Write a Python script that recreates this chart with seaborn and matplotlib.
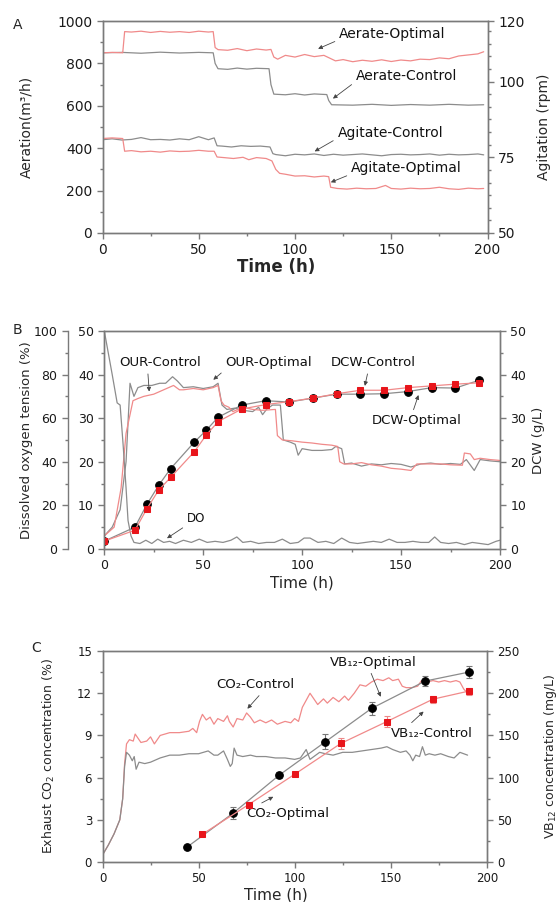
import matplotlib
matplotlib.use("Agg")
import matplotlib.pyplot as plt
from matplotlib.ticker import MultipleLocator, FixedLocator
import seaborn as sns

# ---------------- panel A : aeration / agitation ----------------
aer_ctrl_t = [0, 10, 20, 30, 40, 50, 57.5, 58.5, 60, 65, 70, 75, 80, 86.5, 87.5, 89, 95, 100,
              105, 110, 116.5, 117.5, 119, 130, 140, 150, 160, 170, 180, 190, 198]
aer_ctrl = [850, 852, 848, 853, 849, 852, 850, 800, 775, 772, 778, 773, 777, 775, 700, 655, 652,
            657, 651, 656, 653, 625, 605, 603, 607, 602, 606, 603, 607, 603, 605]

aer_opt_t = [0, 5, 10.5, 11.5, 15, 20, 25, 30, 35, 40, 45, 50, 55, 57.5, 58.5, 60, 65, 70, 75, 80,
             85, 87.5, 89, 91, 95, 100, 105, 110, 115, 118, 121, 125, 130, 135, 140, 145, 150, 155,
             160, 165, 170, 175, 180, 185, 190, 195, 198]
aer_opt = [850, 852, 850, 950, 948, 952, 946, 951, 947, 950, 946, 952, 948, 950, 875, 865, 862, 870,
           860, 868, 863, 866, 830, 820, 838, 830, 842, 832, 838, 825, 812, 818, 808, 815, 810, 817,
           809, 816, 812, 820, 818, 826, 822, 835, 840, 845, 855]

agi_ctrl_t = [0, 5, 10, 15, 20, 25, 30, 35, 40, 45, 50, 55, 58, 59.5, 62, 67, 72, 77, 82, 87, 88.5,
              90, 95, 100, 105, 110, 115, 120, 125, 130, 135, 140, 145, 150, 155, 160, 165, 170, 175,
              180, 185, 190, 195, 198]
agi_ctrl = [80.8, 81.1, 80.7, 80.9, 81.5, 80.8, 80.9, 80.7, 81.1, 80.8, 81.8, 80.8, 81.4, 78.8, 78.7,
            78.4, 78.8, 78.6, 78.7, 78.4, 76.2, 75.9, 75.5, 76.0, 75.8, 76.1, 75.6, 76.0, 75.7, 75.9,
            76.1, 75.8, 75.5, 75.9, 76.0, 75.8, 75.9, 76.1, 75.7, 76.0, 75.8, 75.9, 76.1, 75.8]

agi_opt_t = [0, 5, 10.5, 11.5, 15, 20, 25, 30, 35, 40, 45, 50, 55, 58, 59.5, 63, 68, 73, 76, 80, 85,
             88, 90, 92, 95, 100, 105, 110, 115, 117.5, 118.5, 122, 127, 132, 137, 142, 147, 150,
             155, 160, 165, 170, 175, 180, 185, 190, 195, 198]
agi_opt = [81.2, 81.4, 81.2, 77.0, 77.2, 76.8, 77.0, 76.7, 77.1, 76.9, 77.0, 77.3, 77.0, 77.0, 75.1,
           74.9, 74.6, 75.0, 74.2, 74.9, 74.6, 73.8, 71.0, 69.7, 69.4, 68.8, 68.9, 68.5, 68.8, 68.6,
           65.1, 64.7, 64.5, 64.8, 64.6, 64.7, 65.7, 64.7, 64.5, 64.8, 64.6, 64.7, 65.1, 64.6, 64.4,
           64.8, 64.6, 64.7]

# ---------------- panel B : DO / OUR / DCW ----------------
do_t = [0, 2, 4, 6.5, 8, 9.5, 11, 12, 13.5, 15, 18, 21, 24, 27, 30, 33, 36, 40, 44, 48, 52, 56, 60,
        64, 67, 70, 74, 78, 82, 86, 90, 94, 98, 101, 104, 108, 112, 116, 120, 124, 128, 132, 136,
        140, 144, 148, 152, 156, 160, 164, 167, 170, 174, 178, 182, 186, 190, 194, 198, 200]
do_pct = [100, 90, 80, 67, 66, 48, 28, 13, 6, 3, 2.5, 4, 2.5, 4.5, 3, 3.5, 2.5, 4, 3, 4.5, 3, 3.5,
          3, 4, 5.5, 3, 3.5, 2.5, 3, 3, 4.5, 2.5, 3, 5, 5, 3, 3.5, 2.5, 5, 3, 2.5, 3, 3.5, 3, 4.5,
          3, 3, 3.5, 3, 3, 5.5, 3, 2.5, 3, 2, 3, 2.5, 2, 3.5, 4]

our_ctrl_t = [0, 4, 8, 11, 13, 15, 17, 20, 24, 28, 31, 34.5, 37, 40, 45, 50, 55, 57.5, 59.5, 62, 66,
              70, 75, 78, 80, 82, 85, 89, 90.5, 94, 96.5, 98, 100, 105, 110, 115, 117, 120, 121.5,
              125, 130, 135, 140, 145, 150, 155, 160, 165, 170, 175, 180, 183, 187, 190, 195, 200]
our_ctrl = [3, 5, 9, 20, 38, 35, 37, 37.5, 37.5, 38, 38, 39.5, 38.5, 37, 37.2, 36.8, 37.2, 38, 33,
            32, 32.3, 31.8, 31.5, 32.5, 30.8, 32, 33, 33, 25, 24.5, 24, 21.5, 23, 22.6, 22.6, 22.8,
            23.5, 23, 19.5, 19.7, 19, 19.5, 19.3, 19.6, 19.4, 18.8, 19.5, 19.7, 19.4, 19.6, 19.4,
            20.5, 18, 20.5, 20.2, 20]

our_opt_t = [0, 5, 8.5, 11, 14.5, 17, 20, 25, 30, 35, 38, 40, 45, 50, 55, 57.5, 59, 60.5, 63, 65, 70,
             75, 80, 86.5, 87.5, 90, 95, 100, 105, 110, 115, 118, 119, 121, 125, 130, 135, 140, 145,
             150, 155, 158, 165, 170, 175, 181, 182, 185, 187, 190, 195, 200]
our_opt = [3, 5, 14, 26.5, 34, 34.5, 35, 35.5, 36.5, 37.5, 36.5, 36.5, 36.8, 36.5, 37, 37.5, 34, 33,
           32.5, 31.5, 32.5, 32, 31.8, 32, 26, 25, 24.8, 24.5, 24.3, 24, 23.8, 23.5, 20, 19.5, 19.5,
           19.8, 19.3, 19, 18.5, 18.3, 18, 19.5, 19.5, 19.5, 19.3, 19.2, 22, 21.8, 20.5, 20.8, 20.5,
           20.3]

dcw_t = [0, 15.5, 21.5, 27.5, 33.5, 45.5, 51.5, 57.5, 69.5, 81.5, 93.5, 105.5, 117.5, 129.5, 141.5,
         153.5, 165.5, 177.5, 189.5]
dcw_opt = [1.8, 5.0, 10.2, 14.6, 18.4, 24.5, 27.2, 30.2, 33.0, 34.0, 33.7, 34.6, 35.5, 35.5, 35.6,
           36.1, 37.0, 36.9, 38.7]
dcw_ctrl = [1.8, 4.3, 9.2, 13.5, 16.4, 22.3, 26.1, 29.2, 32.1, 33.1, 33.8, 34.6, 35.6, 36.4, 36.4,
            37.0, 37.4, 37.8, 38.1]

# ---------------- panel C : CO2 / VB12 ----------------
co2_ctrl_t = [0, 3, 6, 9, 10.5, 11.5, 12.5, 14, 16, 17, 18.5, 20, 23, 25, 27, 30, 35, 40, 45, 47,
              49, 50.5, 52, 54, 56, 58, 60, 63, 65, 66, 68, 70, 73, 75, 77, 79, 82, 85, 88, 91, 95,
              98, 100, 102, 104, 106, 108, 110, 112, 115, 117, 120, 123, 126, 128, 131, 134, 137,
              140, 143, 146, 149, 151, 154, 156, 158, 161, 164, 166, 169, 172, 175, 178, 181, 184,
              186, 188, 190]
co2_ctrl = [0.5, 1.2, 2.0, 3.0, 4.5, 7.0, 8.4, 8.7, 8.6, 9.1, 8.8, 8.5, 8.6, 8.9, 8.4, 9.0, 9.2,
            9.2, 9.3, 9.5, 9.2, 10.0, 10.5, 10.1, 10.3, 9.8, 10.2, 10.0, 10.4, 10.0, 9.6, 10.2,
            10.1, 10.6, 10.3, 9.9, 10.1, 9.9, 10.1, 9.8, 10.0, 9.9, 10.2, 10.0, 11.0, 11.5, 12.0,
            11.6, 11.2, 11.6, 11.3, 11.7, 11.4, 11.8, 11.5, 12.0, 12.6, 12.5, 12.8, 13.0, 12.9,
            13.1, 12.9, 13.0, 12.5, 12.4, 12.4, 12.5, 12.9, 12.8, 12.9, 12.8, 12.9, 12.8, 12.9,
            12.8, 12.3, 12.0]

co2_opt_t = [0, 3, 6, 9, 10.5, 11.5, 12.5, 14, 15.5, 16.5, 17.5, 19, 22, 25, 30, 35, 40, 45, 50, 55,
             58, 60, 63, 65, 66.5, 67.5, 68.5, 70, 73, 77, 80, 85, 90, 95, 100, 103, 105, 106, 108,
             110, 113, 116, 120, 125, 130, 135, 140, 145, 148, 151, 155, 158, 160, 161.5, 163, 165,
             166.5, 168, 170, 173, 176, 180, 183, 186, 190]
co2_opt = [0.5, 1.2, 2.0, 3.0, 4.5, 6.8, 7.8, 7.6, 7.2, 7.5, 6.6, 7.1, 7.0, 7.1, 7.4, 7.6, 7.6, 7.7,
           7.7, 7.9, 7.6, 7.6, 7.9, 7.3, 6.8, 7.0, 8.1, 7.6, 7.5, 7.6, 7.5, 7.5, 7.4, 7.4, 7.3, 7.4,
           7.8, 8.0, 7.3, 7.5, 7.8, 7.7, 7.6, 7.8, 7.8, 7.9, 8.0, 8.1, 8.2, 8.0, 7.8, 7.9, 7.6, 7.2,
           7.6, 7.5, 8.2, 7.6, 7.7, 7.6, 7.7, 7.5, 7.4, 7.8, 7.6]

vb_opt_t = [44, 68, 92, 116, 140, 168, 190.5]
vb_opt = [17.7, 58, 103, 142.5, 182, 214.5, 225]
vb_opt_err = [2, 7, 4, 9, 8, 6, 7]
vb_ctrl_t = [52, 76, 100, 124, 148, 172, 190.5]
vb_ctrl = [33, 68, 104, 140.5, 166.5, 193, 202.5]
vb_ctrl_err = [2, 3, 2, 7, 6, 4, 4]

GRAY = '#8c8c8c'
PINK = '#f08a8a'
RED = '#e8151b'
SPINE = '#7a7a7a'


def line(ax, x, y, color, lw=0.9, **kw):
    sns.lineplot(x=x, y=y, ax=ax, color=color, lw=lw, estimator=None, sort=False, **kw)


def style(ax, size):
    for sp in ax.spines.values():
        sp.set_color(SPINE)
        sp.set_linewidth(1.0)
    ax.tick_params(which='both', colors=SPINE, labelcolor='#1a1a1a', labelsize=size, width=1.0)
    ax.tick_params(which='major', length=4)
    ax.tick_params(which='minor', length=2.5)


def note(ax, text, xy, xytext, relpos, size):
    ax.annotate(text, xy=xy, xytext=xytext, ha='center', va='center', fontsize=size, color='#111',
                arrowprops=dict(arrowstyle='-|>', color='#444', lw=0.6, mutation_scale=6,
                                shrinkA=1, shrinkB=0, relpos=relpos))


sns.set_theme(style='ticks')
plt.rcParams['font.family'] = ['DejaVu Sans']

fig = plt.figure(figsize=(5.58, 9.02), dpi=100)

# ---------------- A ----------------
axA = fig.add_axes([0.1837, 0.7417, 0.690, 0.235])
axA2 = axA.twinx()
line(axA, aer_ctrl_t, aer_ctrl, GRAY)
line(axA, aer_opt_t, aer_opt, PINK)
line(axA2, agi_ctrl_t, agi_ctrl, GRAY)
line(axA2, agi_opt_t, agi_opt, PINK)
axA.set_xlim(0, 200)
axA.set_ylim(0, 1000)
axA2.set_ylim(50, 120)
axA.xaxis.set_major_locator(MultipleLocator(50))
axA.xaxis.set_minor_locator(MultipleLocator(25))
axA.yaxis.set_major_locator(MultipleLocator(200))
axA.yaxis.set_minor_locator(MultipleLocator(100))
axA2.yaxis.set_major_locator(FixedLocator([50, 75, 100, 120]))
axA2.yaxis.set_minor_locator(MultipleLocator(25 / 6))
style(axA, 10)
style(axA2, 10)
axA.set_xlabel('Time (h)', fontsize=12, fontweight='bold')
axA.xaxis.set_label_coords(0.45, -0.12)
axA.set_ylabel('Aeration(m³/h)', fontsize=10)
axA.yaxis.set_label_coords(-0.18, 0.5)
axA2.set_ylabel('Agitation (rpm)', fontsize=10)
axA2.yaxis.set_label_coords(1.128, 0.5)
note(axA, 'Aerate-Optimal', (112, 869), (150.7, 939), (0.0, 0.1), 10)
note(axA, 'Aerate-Control', (119.7, 634), (158, 742), (0.0, 0.1), 10)
note(axA, 'Agitate-Control', (110.2, 385), (149.6, 474), (0.0, 0.1), 10)
note(axA, 'Agitate-Optimal', (118.6, 239), (158, 305), (0.0, 0.1), 10)
fig.text(13 / 558, 1 - 25 / 902, 'A', fontsize=10, va='center')

# ---------------- B ----------------
axB = fig.add_axes([0.1869, 0.3914, 0.7091, 0.2417])
axDO = axB.twinx()
axDCW = axB.twinx()
axDO.spines['left'].set_position(('axes', -0.092))
axDO.yaxis.set_ticks_position('left')
axDO.yaxis.set_label_position('left')
for s in ['right', 'top', 'bottom']:
    axDO.spines[s].set_visible(False)

line(axB, our_ctrl_t, our_ctrl, GRAY)
line(axB, our_opt_t, our_opt, PINK)
line(axDO, do_t, do_pct, GRAY)
line(axDCW, dcw_t, dcw_opt, GRAY, marker='o', markersize=5.5, markerfacecolor='black',
     markeredgecolor='black')
line(axDCW, dcw_t, dcw_ctrl, PINK, marker='s', markersize=5, markerfacecolor=RED,
     markeredgecolor=RED)
axB.set_xlim(0, 200)
axB.set_ylim(0, 50)
axDO.set_ylim(0, 100)
axDCW.set_ylim(0, 50)
axB.xaxis.set_major_locator(MultipleLocator(50))
axB.xaxis.set_minor_locator(MultipleLocator(25))
axB.yaxis.set_major_locator(MultipleLocator(10))
axB.yaxis.set_minor_locator(MultipleLocator(5))
axDO.yaxis.set_major_locator(MultipleLocator(20))
axDO.yaxis.set_minor_locator(MultipleLocator(10))
axDCW.yaxis.set_major_locator(MultipleLocator(10))
axDCW.yaxis.set_minor_locator(MultipleLocator(5))
for a in (axB, axDO, axDCW):
    style(a, 9)
axB.set_xlabel('Time (h)', fontsize=11)
axB.xaxis.set_label_coords(0.5, -0.12)
axDO.set_ylabel('Dissolved oxygen tension (%)', fontsize=9.5)
axDO.yaxis.set_label_coords(-0.18, 0.5)
axDCW.set_ylabel('DCW (g/L)', fontsize=9.5)
axDCW.yaxis.set_label_coords(1.081, 0.5)
note(axB, 'OUR-Control', (22.7, 36.1), (28.1, 42.7), (0.35, 0.0), 9.5)
note(axB, 'OUR-Optimal', (55.1, 38.8), (83.2, 42.7), (0.0, 0.0), 9.5)
note(axB, 'DCW-Control', (131.7, 37.4), (135.7, 42.7), (0.45, 0.0), 9.5)
note(axB, 'DCW-Optimal', (158.8, 35.3), (157.8, 29.4), (0.45, 1.0), 9.5)
note(axB, 'DO', (31.7, 2.45), (46.5, 7.0), (0.0, 0.0), 8.5)
fig.text(13 / 558, 1 - 330 / 902, 'B', fontsize=10, va='center')

# ---------------- C ----------------
axC = fig.add_axes([0.1837, 0.0443, 0.6887, 0.2339])
axC2 = axC.twinx()
line(axC, co2_ctrl_t, co2_ctrl, PINK)
line(axC, co2_opt_t, co2_opt, GRAY)
axC2.errorbar(vb_opt_t, vb_opt, yerr=vb_opt_err, fmt='none', ecolor='#777777', elinewidth=0.8,
              capsize=2, capthick=0.8)
axC2.errorbar(vb_ctrl_t, vb_ctrl, yerr=vb_ctrl_err, fmt='none', ecolor='#ee8888', elinewidth=0.8,
              capsize=2, capthick=0.8)
line(axC2, vb_opt_t, vb_opt, GRAY, marker='o', markersize=5.5, markerfacecolor='black',
     markeredgecolor='black')
line(axC2, vb_ctrl_t, vb_ctrl, PINK, marker='s', markersize=5, markerfacecolor=RED,
     markeredgecolor=RED)
axC.set_xlim(0, 200)
axC.set_ylim(0, 15)
axC2.set_ylim(0, 250)
axC.xaxis.set_major_locator(MultipleLocator(50))
axC.xaxis.set_minor_locator(MultipleLocator(25))
axC.yaxis.set_major_locator(MultipleLocator(3))
axC.yaxis.set_minor_locator(MultipleLocator(1.5))
axC2.yaxis.set_major_locator(MultipleLocator(50))
axC2.yaxis.set_minor_locator(MultipleLocator(25))
style(axC, 8.5)
style(axC2, 8.5)
axC.set_xlabel('Time (h)', fontsize=11)
axC.xaxis.set_label_coords(0.45, -0.12)
axC.set_ylabel('Exhaust CO$_2$ concentration (%)', fontsize=9)
axC.yaxis.set_label_coords(-0.119, 0.5)
axC2.set_ylabel('VB$_{12}$ concentration (mg/L)', fontsize=9)
axC2.yaxis.set_label_coords(1.143, 0.5)
note(axC, 'CO₂-Control', (75.4, 10.9), (79.4, 12.6), (0.6, 0.0), 9.5)
note(axC, 'VB₁₂-Optimal', (144.8, 11.75), (141.1, 14.2), (0.45, 0.0), 9.5)
note(axC, 'VB₁₂-Control', (167.1, 10.7), (171.3, 9.15), (0.2, 1.0), 9.5)
note(axC, 'CO₂-Optimal', (88.9, 4.64), (96.3, 3.46), (0.1, 1.0), 9.5)
fig.text(31.7 / 558, 1 - 648 / 902, 'C', fontsize=10, va='center')

fig.savefig('out.png', dpi=100)
